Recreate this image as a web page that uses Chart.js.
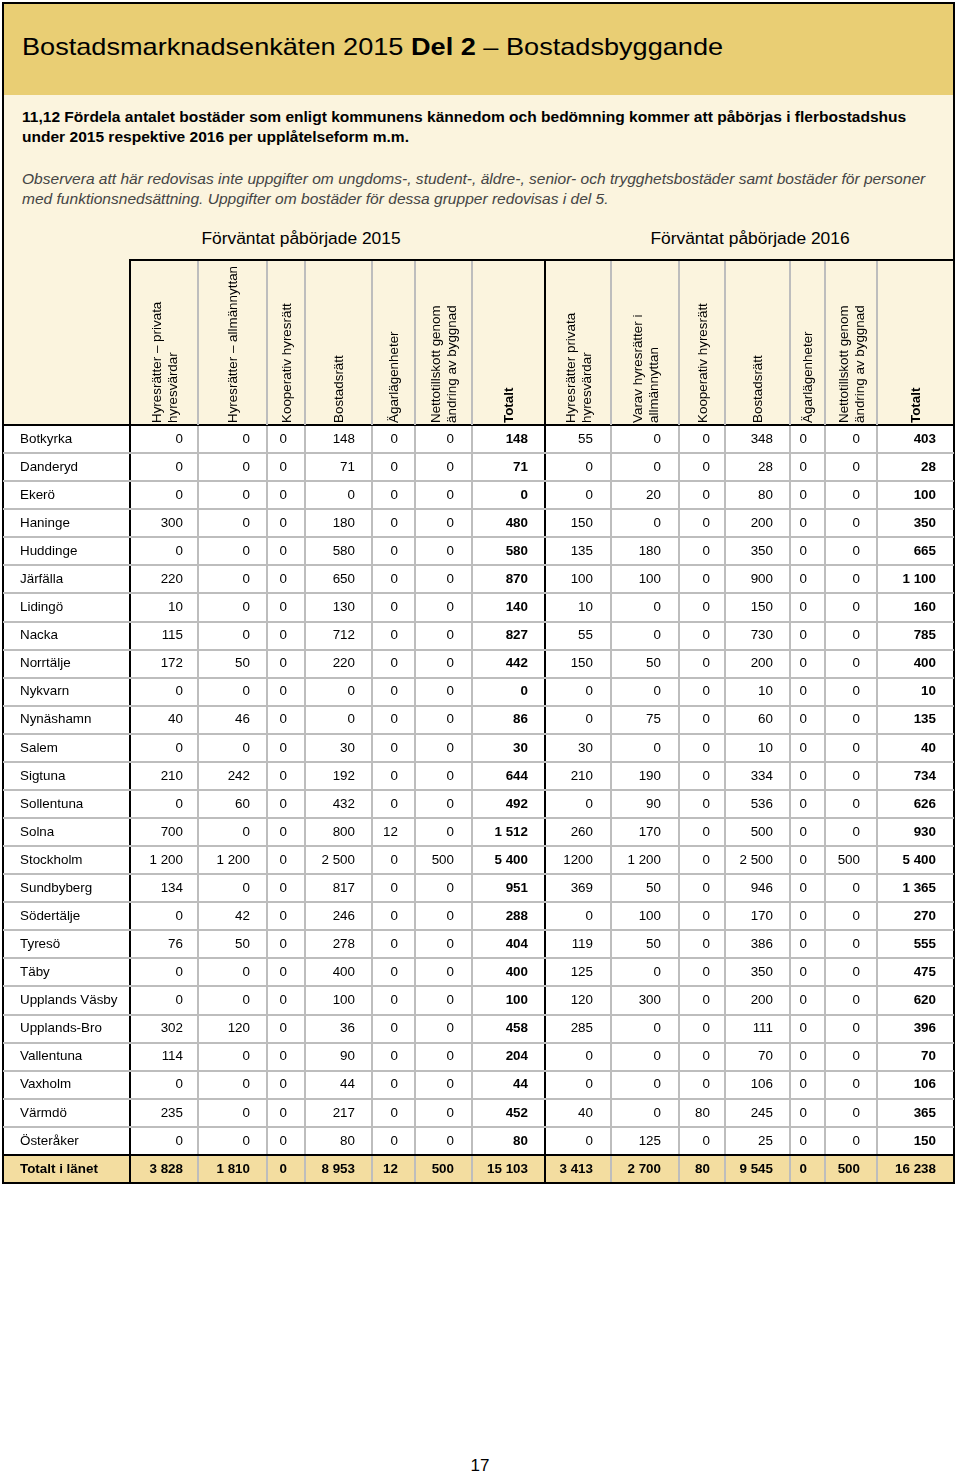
<!DOCTYPE html>
<html lang="sv">
<head>
<meta charset="utf-8">
<title>Bostadsmarknadsenkäten 2015 Del 2</title>
<script src="https://cdn.jsdelivr.net/npm/chart.js@4.4.1/dist/chart.umd.min.js"></script>
<style>
  body { margin: 0; width: 960px; height: 1473px; position: relative; background: #fff;
         font-family: "Liberation Sans", Arial, sans-serif; color: #000; }
  #frame { position: absolute; left: 2px; top: 2px; width: 953px; height: 1182px;
           box-sizing: border-box; border: 2px solid #000; background: #FBF4DE; }
  #band { height: 91px; background: #E9CE74; }
  .abs { position: absolute; white-space: nowrap; }
  #title { left: 22px; top: 33px; font-size: 24px; line-height: 28px;
           transform: scaleX(1.13); transform-origin: 0 50%; }
  #question { left: 22px; top: 107px; font-size: 14px; line-height: 20px; font-weight: bold;
              transform: scaleX(1.11); transform-origin: 0 50%; }
  #note { left: 22px; top: 169px; font-size: 14px; line-height: 20px; font-style: italic; color: #444;
          transform: scaleX(1.11); transform-origin: 0 50%; }
  .group { top: 228px; font-size: 17.4px; line-height: 20px; transform: translateX(-50%); }
  #page { left: 480px; top: 1456px; font-size: 17px; line-height: 20px; transform: translateX(-50%); }
  #table { position: absolute; left: 0; top: 0; z-index: 1; }
</style>
</head>
<body>
<div id="frame"><div id="band"></div></div>
<div class="abs" id="title">Bostadsmarknadsenkäten 2015 <b>Del 2</b> – Bostadsbyggande</div>
<div class="abs" id="question">11,12 Fördela antalet bostäder som enligt kommunens kännedom och bedömning kommer att påbörjas i flerbostadshus<br>under 2015 respektive 2016 per upplåtelseform m.m.</div>
<div class="abs" id="note">Observera att här redovisas inte uppgifter om ungdoms-, student-, äldre-, senior- och trygghetsbostäder samt bostäder för personer<br>med funktionsnedsättning. Uppgifter om bostäder för dessa grupper redovisas i del 5.</div>
<div class="abs group" style="left:301px">Förväntat påbörjade 2015</div>
<div class="abs group" style="left:750px">Förväntat påbörjade 2016</div>
<canvas id="table" width="960" height="1190"></canvas>
<div class="abs" id="page">17</div>

<script>
// rows
const kommuner = [
  "Botkyrka", "Danderyd", "Ekerö", "Haninge", "Huddinge", "Järfälla", "Lidingö",
  "Nacka", "Norrtälje", "Nykvarn", "Nynäshamn", "Salem", "Sigtuna", "Sollentuna",
  "Solna", "Stockholm", "Sundbyberg", "Södertälje", "Tyresö", "Täby",
  "Upplands Väsby", "Upplands-Bro", "Vallentuna", "Vaxholm", "Värmdö", "Österåker"
];
const totalLabel = "Totalt i länet";

// column headers (rotated)
const headers = [
  ["Hyresrätter – privata", "hyresvärdar"],
  ["Hyresrätter – allmännyttan"],
  ["Kooperativ hyresrätt"],
  ["Bostadsrätt"],
  ["Ägarlägenheter"],
  ["Nettotillskott genom", "ändring av byggnad"],
  ["Totalt"],
  ["Hyresrätter privata", "hyresvärdar"],
  ["Varav hyresrätter i", "allmännyttan"],
  ["Kooperativ hyresrätt"],
  ["Bostadsrätt"],
  ["Ägarlägenheter"],
  ["Nettotillskott genom", "ändring av byggnad"],
  ["Totalt"]
];

// 2015
const hyrPriv2015 = [0, 0, 0, 300, 0, 220, 10, 115, 172, 0, 40, 0, 210, 0, 700, 1200, 134, 0, 76, 0, 0, 302, 114, 0, 235, 0];
const allmannyttan2015 = [0, 0, 0, 0, 0, 0, 0, 0, 50, 0, 46, 0, 242, 60, 0, 1200, 0, 42, 50, 0, 0, 120, 0, 0, 0, 0];
const kooperativ2015 = [0, 0, 0, 0, 0, 0, 0, 0, 0, 0, 0, 0, 0, 0, 0, 0, 0, 0, 0, 0, 0, 0, 0, 0, 0, 0];
const bostadsratt2015 = [148, 71, 0, 180, 580, 650, 130, 712, 220, 0, 0, 30, 192, 432, 800, 2500, 817, 246, 278, 400, 100, 36, 90, 44, 217, 80];
const agarlgh2015 = [0, 0, 0, 0, 0, 0, 0, 0, 0, 0, 0, 0, 0, 0, 12, 0, 0, 0, 0, 0, 0, 0, 0, 0, 0, 0];
const netto2015 = [0, 0, 0, 0, 0, 0, 0, 0, 0, 0, 0, 0, 0, 0, 0, 500, 0, 0, 0, 0, 0, 0, 0, 0, 0, 0];
const totalt2015 = [148, 71, 0, 480, 580, 870, 140, 827, 442, 0, 86, 30, 644, 492, 1512, 5400, 951, 288, 404, 400, 100, 458, 204, 44, 452, 80];

// 2016
const hyrPriv2016 = [55, 0, 0, 150, 135, 100, 10, 55, 150, 0, 0, 30, 210, 0, 260, 1200, 369, 0, 119, 125, 120, 285, 0, 0, 40, 0];
const allmannyttan2016 = [0, 0, 20, 0, 180, 100, 0, 0, 50, 0, 75, 0, 190, 90, 170, 1200, 50, 100, 50, 0, 300, 0, 0, 0, 0, 125];
const kooperativ2016 = [0, 0, 0, 0, 0, 0, 0, 0, 0, 0, 0, 0, 0, 0, 0, 0, 0, 0, 0, 0, 0, 0, 0, 0, 80, 0];
const bostadsratt2016 = [348, 28, 80, 200, 350, 900, 150, 730, 200, 10, 60, 10, 334, 536, 500, 2500, 946, 170, 386, 350, 200, 111, 70, 106, 245, 25];
const agarlgh2016 = [0, 0, 0, 0, 0, 0, 0, 0, 0, 0, 0, 0, 0, 0, 0, 0, 0, 0, 0, 0, 0, 0, 0, 0, 0, 0];
const netto2016 = [0, 0, 0, 0, 0, 0, 0, 0, 0, 0, 0, 0, 0, 0, 0, 500, 0, 0, 0, 0, 0, 0, 0, 0, 0, 0];
const totalt2016 = [403, 28, 100, 350, 665, 1100, 160, 785, 400, 10, 135, 40, 734, 626, 930, 5400, 1365, 270, 555, 475, 620, 396, 70, 106, 365, 150];

// Totalt i länet
const lanet2015 = [3828, 1810, 0, 8953, 12, 500, 15103];
const lanet2016 = [3413, 2700, 80, 9545, 0, 500, 16238];

const columns = [
  hyrPriv2015, allmannyttan2015, kooperativ2015, bostadsratt2015, agarlgh2015, netto2015, totalt2015,
  hyrPriv2016, allmannyttan2016, kooperativ2016, bostadsratt2016, agarlgh2016, netto2016, totalt2016
];
const columnTotals = lanet2015.concat(lanet2016);

// layout
const colEdges = [3, 130, 198, 267, 305, 372, 415, 472, 545, 611, 679, 725, 790, 825, 877, 954];
const heavyEdges = [3, 130, 545, 954];
const padRight = [15, 17, 18, 17, 17, 18, 17, 18, 18, 15, 17, 18, 17, 18];
const boldCols = [6, 13];
const headerHeight = 165;
const nRows = kommuner.length + 1;
const FONT = '"Liberation Sans", Arial, sans-serif';
const SIZE = "13.4px ";
const GRAY = "#BDBDBD";
const TOTAL_FILL = "#F3DDA0";

const fmt = (n) => String(n).replace(/\B(?=(\d{3})+(?!\d))/g, " ");
const plainCells = ["7,15"]; // printed without thousands space in the source

const datasets = columns.map((values, c) => ({
  label: headers[c].join(" "),
  data: values.concat([columnTotals[c]]).map((v, r) => ({
    x: (colEdges[c + 1] + colEdges[c + 2]) / 2,
    y: r + 0.5,
    v
  })),
  pointRadius: 0,
  pointHoverRadius: 0
}));

const tablePlugin = {
  id: "tableCells",
  beforeDraw(chart) {
    const { ctx, chartArea: a, scales: { y } } = chart;
    ctx.save();
    ctx.fillStyle = "#fff";
    ctx.fillRect(a.left, a.top, a.right - a.left, a.bottom - a.top);
    const t0 = y.getPixelForValue(nRows - 1), t1 = y.getPixelForValue(nRows);
    ctx.fillStyle = TOTAL_FILL;
    ctx.fillRect(a.left, t0, a.right - a.left, t1 - t0);
    ctx.restore();
  },
  afterDraw(chart) {
    const { ctx, chartArea: a, scales: { x, y } } = chart;
    const top = a.top - headerHeight;
    ctx.save();

    // header grid
    colEdges.slice(1, -1).forEach((e) => {
      const px = Math.round(x.getPixelForValue(e));
      ctx.strokeStyle = heavyEdges.includes(e) ? "#000" : GRAY;
      ctx.lineWidth = 2;
      ctx.beginPath();
      ctx.moveTo(px, top);
      ctx.lineTo(px, a.top);
      ctx.stroke();
    });
    ctx.strokeStyle = "#000";
    ctx.beginPath();
    ctx.moveTo(Math.round(x.getPixelForValue(colEdges[1])) - 1, top);
    ctx.lineTo(Math.round(x.getPixelForValue(colEdges[colEdges.length - 1])) + 1, top);
    ctx.stroke();

    // rotated header labels
    ctx.fillStyle = "#000";
    ctx.textBaseline = "middle";
    ctx.textAlign = "left";
    headers.forEach((lines, c) => {
      const cx = (x.getPixelForValue(colEdges[c + 1]) + x.getPixelForValue(colEdges[c + 2])) / 2;
      ctx.font = (boldCols.includes(c) ? "bold " : "") + SIZE + FONT;
      ctx.save();
      ctx.translate(cx + 1, a.top - 2);
      ctx.rotate(-Math.PI / 2);
      lines.forEach((line, j) => {
        ctx.fillText(line, 0, (j - (lines.length - 1) / 2) * 16);
      });
      ctx.restore();
    });

    // row labels
    const lx = x.getPixelForValue(colEdges[0]) + 17;
    kommuner.concat([totalLabel]).forEach((name, r) => {
      ctx.font = (r === nRows - 1 ? "bold " : "") + SIZE + FONT;
      ctx.fillText(name, lx, y.getPixelForValue(r + 0.5));
    });

    // cell values
    ctx.textAlign = "right";
    chart.data.datasets.forEach((ds, c) => {
      const meta = chart.getDatasetMeta(c);
      const rx = x.getPixelForValue(colEdges[c + 2]) - padRight[c];
      meta.data.forEach((el, r) => {
        const v = ds.data[r].v;
        const bold = boldCols.includes(c) || r === nRows - 1;
        ctx.font = (bold ? "bold " : "") + SIZE + FONT;
        const txt = plainCells.includes(c + "," + r) ? String(v) : fmt(v);
        ctx.fillText(txt, rx, el.y);
      });
    });
    ctx.restore();
  }
};

const gridColor = (ctx) => {
  return heavyEdges.includes(ctx.tick.value) ? "#000" : GRAY;
};

new Chart(document.getElementById("table").getContext("2d"), {
  type: "scatter",
  data: { datasets },
  options: {
    responsive: false,
    animation: false,
    events: [],
    layout: { padding: { left: 3, right: 6, top: 425, bottom: 7 } },
    plugins: { legend: { display: false }, tooltip: { enabled: false } },
    scales: {
      x: {
        type: "linear",
        min: colEdges[0],
        max: colEdges[colEdges.length - 1],
        afterBuildTicks: (scale) => { scale.ticks = colEdges.map((v) => ({ value: v })); },
        ticks: { display: false },
        border: { display: false },
        grid: { color: gridColor, lineWidth: 2, drawTicks: false }
      },
      y: {
        type: "linear",
        reverse: true,
        min: 0,
        max: nRows,
        afterBuildTicks: (scale) => {
          scale.ticks = Array.from({ length: nRows + 1 }, (_, i) => ({ value: i }));
        },
        ticks: { display: false },
        border: { display: false },
        grid: {
          color: (ctx) => [0, nRows - 1, nRows].includes(ctx.tick.value) ? "#000" : GRAY,
          lineWidth: 2,
          drawTicks: false
        }
      }
    }
  },
  plugins: [tablePlugin]
});
</script>
</body>
</html>
